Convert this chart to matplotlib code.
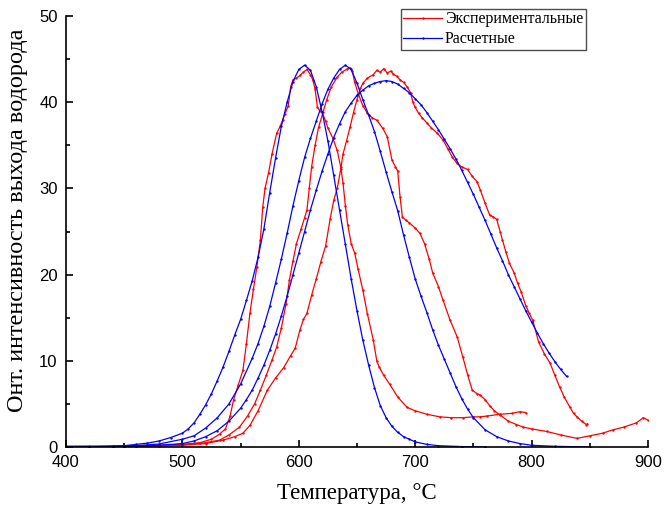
import matplotlib.pyplot as plt
from matplotlib.ticker import MultipleLocator

# experimental curves (red)
red1_t = [400, 420, 440, 460, 480, 500, 515, 525, 532, 537, 541, 544, 548, 552, 555, 558, 561, 564, 567, 569,
          571, 574, 577, 581, 584, 586, 588, 591, 593, 595, 598, 601, 604, 607, 610, 612, 614, 616, 618, 620,
          623, 625, 629, 633, 636, 638, 640, 642, 645, 648, 651, 655, 659, 664, 667, 669, 673, 678, 685, 693,
          700, 710, 721, 731, 741, 750, 756, 762, 773, 783, 790, 795]
red1_v = [0.1, 0.1, 0.1, 0.15, 0.2, 0.3, 0.5, 0.9, 1.5, 2.1, 3.6, 5.5, 7.2, 8.9, 12.0, 15.5, 18.3, 20.9, 24.0, 27.8,
          30.0, 31.8, 34.0, 36.4, 37.2, 37.9, 38.6, 39.6, 41.8, 42.6, 42.8, 43.1, 43.5, 43.8, 43.2, 42.6, 41.5, 39.4, 39.0, 38.9,
          37.8, 37.0, 35.9, 34.4, 32.5, 30.6, 28.0, 25.8, 23.6, 22.5, 20.6, 18.2, 15.4, 12.4, 10.0, 9.3, 8.3, 7.3, 5.8, 4.6,
          4.2, 3.8, 3.5, 3.4, 3.4, 3.5, 3.5, 3.6, 3.8, 3.9, 4.1, 4.0]

red2_t = [400, 440, 480, 500, 520, 532, 540, 549, 556, 562, 567, 572, 577, 581, 585, 589, 592, 595, 598, 602,
          605, 607, 609, 611, 614, 617, 621, 624, 628, 633, 637, 641, 644, 646, 648, 651, 655, 659, 663, 667,
          672, 676, 680, 683, 685, 687, 689, 692, 695, 700, 704, 708, 712, 715, 720, 724, 730, 736, 741, 745,
          749, 753, 756, 760, 764, 768, 773, 780, 787, 793, 800, 813, 825, 839, 850, 861, 870, 879, 890, 896,
          900]
red2_v = [0.05, 0.1, 0.15, 0.25, 0.5, 0.8, 1.4, 2.3, 3.6, 5.0, 6.6, 8.3, 10.1, 11.6, 13.8, 16.6, 19.4, 21.6, 23.6, 25.3,
          26.6, 27.5, 30.0, 32.5, 35.0, 37.1, 38.9, 40.3, 41.8, 42.9, 43.5, 43.8, 44.0, 43.6, 42.3, 41.0, 39.6, 38.7, 38.2, 37.9,
          37.0, 36.0, 33.3, 32.5, 32.0, 29.0, 26.7, 26.3, 26.0, 25.4, 24.8, 23.6, 21.8, 20.2, 18.6, 17.0, 14.7, 12.8, 10.4, 8.4,
          6.6, 6.2, 6.0, 5.5, 4.8, 4.2, 3.7, 3.0, 2.6, 2.3, 2.1, 1.8, 1.4, 1.0, 1.3, 1.6, 2.0, 2.3, 2.8, 3.4,
          3.1]

red3_t = [400, 440, 480, 500, 520, 535, 545, 552, 558, 565, 573, 580, 587, 593, 597, 601, 604, 607, 611, 615,
          619, 623, 627, 630, 633, 636, 638, 641, 644, 647, 650, 653, 655, 659, 664, 667, 670, 673, 676, 679,
          681, 684, 687, 690, 693, 696, 698, 700, 703, 706, 710, 714, 719, 724, 728, 732, 736, 740, 745, 749,
          753, 756, 760, 764, 767, 770, 773, 775, 778, 781, 785, 788, 791, 795, 798, 801, 806, 811, 816, 820,
          824, 828, 833, 836, 839, 843, 847, 848]
red3_v = [0.05, 0.05, 0.1, 0.2, 0.4, 0.8, 1.2, 1.6, 2.5, 4.2, 6.6, 8.0, 9.2, 10.6, 11.5, 13.6, 14.8, 15.5, 17.6, 19.5,
          21.5, 23.3, 26.5, 28.6, 30.0, 32.2, 34.0, 35.5, 37.1, 38.8, 40.3, 41.6, 42.2, 42.8, 43.2, 43.7, 43.5, 43.9, 43.4, 43.6,
          43.3, 43.0, 42.6, 42.3, 41.8, 41.1, 40.0, 39.4, 38.7, 38.2, 37.6, 37.0, 36.4, 35.6, 34.6, 33.6, 32.9, 32.5, 32.2, 31.4,
          30.8, 29.8, 28.3, 26.9, 26.7, 26.4, 25.0, 24.0, 22.6, 21.3, 20.2, 19.0, 18.0, 16.4, 15.5, 14.7, 12.2, 10.8, 9.7, 8.3,
          7.0, 5.8, 4.6, 3.9, 3.5, 3.0, 2.6, 2.7]

# calculated curves (blue)
blue1_t = [400, 420, 440, 450, 460, 470, 480, 490, 500, 505, 510, 515, 520, 525, 530, 535, 540, 545, 550, 555,
           560, 565, 570, 575, 580, 585, 590, 595, 600, 605, 610, 615, 620, 625, 630, 635, 640, 645, 650, 655,
           660, 665, 670, 675, 680, 685, 690, 695, 700, 710, 720, 740, 760]
blue1_v = [0.0, 0.02, 0.1, 0.15, 0.3, 0.45, 0.7, 1.1, 1.6, 2.1, 2.8, 3.8, 4.9, 6.2, 7.7, 9.3, 11.1, 13.0, 14.8, 17.0,
           19.3, 22.0, 25.3, 29.5, 33.5, 37.2, 40.0, 42.4, 43.8, 44.3, 43.7, 41.8, 38.9, 35.5, 31.5, 27.5, 23.5, 19.5, 15.8, 12.4,
           9.5, 6.9, 4.8, 3.4, 2.4, 1.7, 1.2, 0.9, 0.6, 0.3, 0.15, 0.05, 0.0]

blue2_t = [400, 440, 460, 480, 500, 510, 520, 530, 540, 550, 560, 565, 570, 575, 580, 585, 590, 595, 600, 605,
           610, 615, 620, 625, 630, 635, 640, 645, 650, 655, 660, 665, 670, 675, 680, 685, 690, 695, 700, 705,
           710, 715, 720, 725, 730, 735, 740, 745, 750, 760, 770, 780, 790, 800, 820, 850]
blue2_v = [0.0, 0.05, 0.15, 0.35, 0.9, 1.3, 2.2, 3.4, 5.0, 7.3, 10.3, 12.0, 14.0, 16.3, 19.0, 21.8, 24.8, 28.0, 30.9, 33.6,
           35.8, 37.8, 39.8, 41.5, 42.8, 43.8, 44.3, 43.8, 42.2, 40.3, 38.5, 36.6, 34.3, 31.9, 29.6, 27.4, 24.6, 22.0, 19.5, 17.5,
           15.6, 13.6, 11.8, 10.2, 8.6, 7.0, 5.6, 4.4, 3.4, 2.0, 1.2, 0.7, 0.4, 0.2, 0.08, 0.0]

blue3_t = [400, 450, 480, 500, 510, 520, 530, 540, 550, 555, 560, 565, 570, 575, 580, 585, 590, 595, 600, 605,
           610, 615, 620, 625, 630, 635, 640, 645, 650, 655, 660, 665, 670, 675, 680, 685, 690, 695, 700, 705,
           710, 715, 720, 725, 730, 735, 740, 745, 750, 755, 760, 765, 770, 775, 780, 785, 790, 795, 800, 805,
           810, 815, 820, 825, 830]
blue3_v = [0.0, 0.05, 0.2, 0.4, 0.7, 1.2, 1.9, 3.0, 4.5, 5.5, 6.6, 8.0, 9.5, 11.2, 13.1, 15.2, 17.5, 20.0, 22.5, 25.0,
           27.5, 29.8, 32.0, 34.0, 35.9, 37.5, 38.9, 39.9, 40.8, 41.4, 41.9, 42.2, 42.4, 42.5, 42.4, 42.1, 41.6, 41.1, 40.4, 39.7,
           38.8, 37.8, 36.8, 35.7, 34.6, 33.4, 32.1, 30.7, 29.3, 27.8, 26.3, 24.7, 23.1, 21.6, 20.0, 18.6, 17.2, 15.8, 14.5, 13.2,
           12.0, 10.9, 9.9, 9.0, 8.2]

fig = plt.figure(figsize=(6.64, 5.19), dpi=100)
ax = fig.add_axes([66 / 664, 72 / 519, 582 / 664, 431 / 519])

style = dict(lw=0.9, marker='.', ms=1.4)
ax.plot(red1_t, red1_v, c='#ff0000', label='Экспериментальные', **style)
ax.plot(red2_t, red2_v, c='#ff0000', **style)
ax.plot(red3_t, red3_v, c='#ff0000', **style)
ax.plot(blue1_t, blue1_v, c='#0000ff', label='Расчетные', **style)
ax.plot(blue2_t, blue2_v, c='#0000ff', **style)
ax.plot(blue3_t, blue3_v, c='#0000ff', **style)

ax.set_xlim(400, 900)
ax.set_ylim(0, 50)
ax.set_xticks([400, 500, 600, 700, 800, 900])
ax.set_yticks([0, 10, 20, 30, 40, 50])
ax.xaxis.set_minor_locator(MultipleLocator(50))
ax.yaxis.set_minor_locator(MultipleLocator(5))
ax.tick_params(which='both', direction='in', width=1.2, labelsize=12)
ax.tick_params(which='major', length=5, pad=6)
ax.tick_params(which='minor', length=3)
for lab in ax.get_xticklabels() + ax.get_yticklabels():
    lab.set_family('Liberation Sans')
ax.spines['top'].set_visible(False)
ax.spines['right'].set_visible(False)
ax.spines['left'].set_linewidth(1.2)
ax.spines['bottom'].set_linewidth(1.2)

ax.set_xlabel('Температура, °C', family='Liberation Serif', fontsize=16.5, labelpad=9)
ax.set_ylabel('Онт. интенсивность выхода водорода', family='Liberation Serif', fontsize=17.5)
ax.yaxis.set_label_coords(-0.066, 0.525)

leg = ax.legend(loc='upper left', bbox_to_anchor=(401 / 664, 1 - 9 / 519), bbox_transform=fig.transFigure,
                prop={'family': 'Liberation Serif', 'size': 11.5}, frameon=True, fancybox=False,
                edgecolor='#222222', borderpad=0.15, borderaxespad=0, handlelength=2.4,
                handletextpad=0.2, labelspacing=0.25)
leg.get_frame().set_linewidth(1.0)

fig.savefig('out.png', dpi=100)
